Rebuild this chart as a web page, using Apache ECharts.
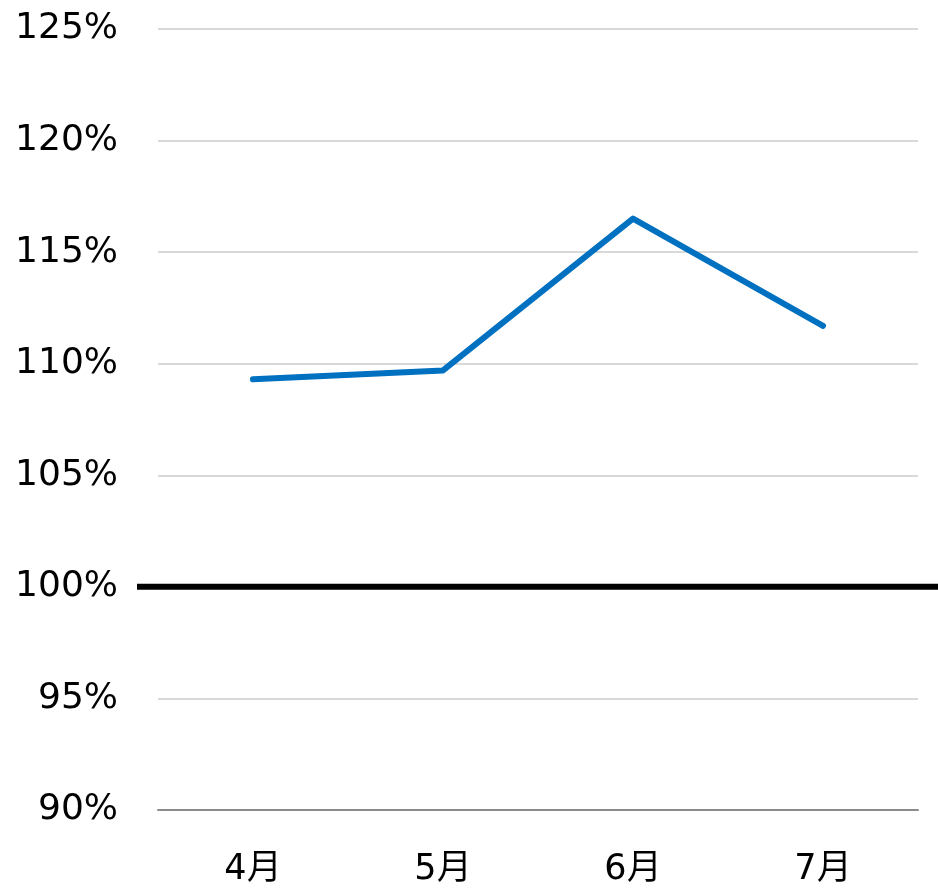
<!DOCTYPE html>
<html>
<head>
<meta charset="utf-8">
<script src="https://cdn.jsdelivr.net/npm/echarts@6/dist/echarts.min.js"></script>
<style>
  html, body { margin: 0; padding: 0; background: #fff; }
  #chart { width: 938px; height: 888px; }
</style>
</head>
<body>
<div id="chart"></div>
<script>
const months = ["4月", "5月", "6月", "7月"];
const ratio = [109.3, 109.7, 116.5, 111.7];
const baseline = 100;
const yMin = 90;
const yMax = 125;
const yStep = 5;

const font = "'DejaVu Sans', 'Noto Sans CJK JP', sans-serif";

const chart = echarts.init(document.getElementById("chart"));
chart.setOption({
  animation: false,
  grid: [
    { left: 158, right: 20, top: 29, bottom: 78 },
    { left: 137, right: 0, top: 29, bottom: 78 },
  ],
  xAxis: [
    {
      type: "category",
      gridIndex: 0,
      data: months,
      boundaryGap: true,
      axisLine: { lineStyle: { color: "#8c8c8c", width: 2 } },
      axisTick: { show: false },
      axisLabel: { color: "#000", fontSize: 35, fontFamily: font, margin: 42 },
    },
    { type: "value", gridIndex: 1, min: 0, max: 1, show: false },
  ],
  yAxis: [
    {
      type: "value",
      gridIndex: 0,
      min: yMin,
      max: yMax,
      interval: yStep,
      axisLine: { show: false },
      axisTick: { show: false },
      axisLabel: {
        color: "#000",
        fontSize: 36,
        fontFamily: font,
        margin: 40,
        formatter: (v) => v + "%",
      },
      splitLine: { lineStyle: { color: "#d9d9d9", width: 2 } },
    },
    { type: "value", gridIndex: 1, min: yMin, max: yMax, show: false },
  ],
  series: [
    {
      type: "line",
      xAxisIndex: 1,
      yAxisIndex: 1,
      data: [[0, baseline], [1, baseline]],
      symbol: "none",
      lineStyle: { color: "#000", width: 6 },
      silent: true,
    },
    {
      type: "line",
      xAxisIndex: 0,
      yAxisIndex: 0,
      data: ratio,
      symbol: "none",
      lineStyle: { color: "#0070c0", width: 6, cap: "round", join: "round" },
    },
  ],
});
</script>
</body>
</html>
